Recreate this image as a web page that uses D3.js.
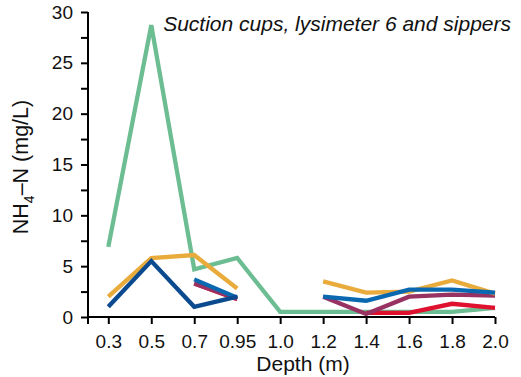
<!DOCTYPE html>
<html>
<head>
<meta charset="utf-8">
<script src="https://cdn.jsdelivr.net/npm/d3@7"></script>
<style>
  body { margin: 0; background: #fff; }
  text { font-family: "Liberation Sans", Arial, sans-serif; }
</style>
</head>
<body>
<svg id="chart" width="521" height="377"></svg>
<script>
// data (NH4-N, mg/L) by depth; null = no sample
var depths = ["0.3", "0.5", "0.7", "0.95", "1.0", "1.2", "1.4", "1.6", "1.8", "2.0"]
var green  = [6.9, 28.7, 4.7, 5.8, 0.5, 0.5, 0.5, 0.5, 0.5, 0.9]
var maroon = [null, null, 3.3, 1.8, null, 2.0, 0.3, 2.0, 2.2, 2.1]
var red    = [null, null, 3.3, 1.75, null, null, 0.4, 0.4, 1.3, 0.9]
var orange = [2.0, 5.8, 6.1, 2.8, null, 3.5, 2.4, 2.5, 3.6, 2.3]
var blue   = [null, null, 3.7, 1.9, null, 2.0, 1.6, 2.7, 2.7, 2.4]
var navy   = [1.0, 5.5, 1.0, 2.0, null, null, null, null, null, null]
var yTicks = [0, 5, 10, 15, 20, 25, 30]

var series = [
  {vals: green,  color: "#6dbd93"},
  {vals: red,    color: "#e0102f"},
  {vals: maroon, color: "#973262"},
  {vals: orange, color: "#e8ab3c"},
  {vals: blue,   color: "#0a68b0"},
  {vals: navy,   color: "#0b4a8e"}
]

var svg = d3.select("#chart")
var x0 = 88, x1 = 495, y0 = 317, yTop = 12

var x = d3.scalePoint()
    .domain(depths)
    .range([108.3, 495])

var y = d3.scaleLinear()
    .domain([0, 30])
    .range([y0, yTop])

// y axis
var yAxis = svg.append("g")
    .attr("transform", "translate(" + x0 + ",0)")
    .call(d3.axisLeft(y).tickValues(d3.range(0, 30.1, 2.5)).tickSize(7).tickFormat(function(d){ return yTicks.indexOf(d) >= 0 ? d : "" }))
yAxis.select(".domain").attr("stroke-width", 2).attr("d", "M0," + y0 + "V" + yTop)
yAxis.selectAll("line").attr("stroke-width", 2)
yAxis.selectAll("text").attr("font-size", "19px").attr("fill", "#111").attr("x", -15)

// x axis
var xAxis = svg.append("g")
    .attr("transform", "translate(0," + y0 + ")")
    .call(d3.axisBottom(x).tickSize(7).tickSizeOuter(0))
xAxis.select(".domain").attr("stroke-width", 2).attr("d", "M" + x0 + ",0H" + x1)
xAxis.selectAll("line").attr("stroke-width", 2)
xAxis.selectAll("text").attr("font-size", "19px").attr("fill", "#111").attr("y", 31).attr("dy", 0)
xAxis.append("line").attr("x1", x0).attr("x2", x0).attr("y1", 0).attr("y2", 7)
    .attr("stroke", "#000").attr("stroke-width", 2)

// lines
var line = d3.line()
    .defined(function(d){ return d.v != null })
    .x(function(d){ return x(d.k) })
    .y(function(d){ return y(d.v) })

series.forEach(function(s) {
  var pts = depths.map(function(k, i){ return {k: k, v: s.vals[i]} })
  svg.append("path")
    .attr("d", line(pts))
    .attr("fill", "none")
    .attr("stroke", s.color)
    .attr("stroke-width", 4.3)
    .attr("stroke-linejoin", "miter")
})

// labels
svg.append("text")
    .attr("x", 511).attr("y", 31)
    .attr("text-anchor", "end")
    .attr("font-size", "21px")
    .attr("font-style", "italic")
    .attr("fill", "#111")
    .text("Suction cups, lysimeter 6 and sippers")

svg.append("text")
    .attr("x", 303).attr("y", 371)
    .attr("text-anchor", "middle")
    .attr("font-size", "21px")
    .attr("fill", "#111")
    .text("Depth (m)")

var yl = svg.append("text")
    .attr("transform", "translate(28,167) rotate(-90)")
    .attr("text-anchor", "middle")
    .attr("font-size", "21.5px")
    .attr("fill", "#111")
yl.append("tspan").text("NH")
yl.append("tspan").attr("font-size", "14px").attr("dy", 6).text("4")
yl.append("tspan").attr("dy", -6).text("\u2013N (mg/L)")
</script>
</body>
</html>
